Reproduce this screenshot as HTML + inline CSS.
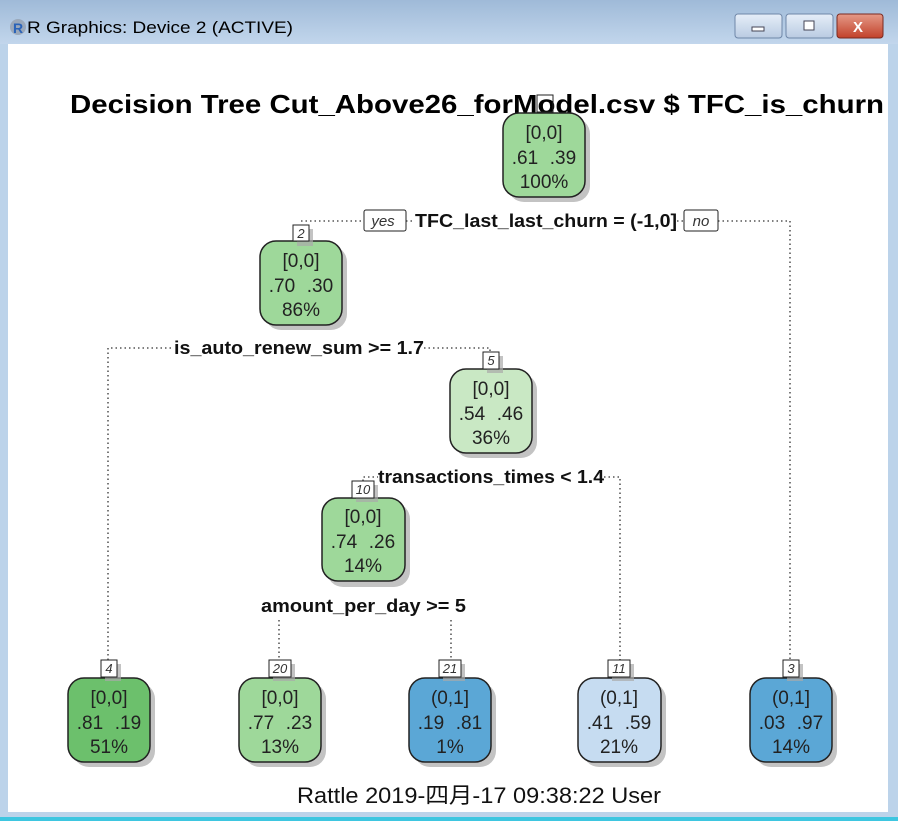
<!DOCTYPE html>
<html><head><meta charset="utf-8"><style>
html,body{margin:0;padding:0;width:898px;height:821px;overflow:hidden;background:#bcd3ea;}
svg{display:block}
text{font-family:"Liberation Sans","Noto Sans CJK SC",sans-serif;}
</style></head><body>
<svg width="898" height="821" xmlns="http://www.w3.org/2000/svg">
<defs>
<linearGradient id="tb" x1="0" y1="0" x2="0" y2="1"><stop offset="0" stop-color="#9fbad8"/><stop offset="1" stop-color="#c2d6ec"/></linearGradient>
<linearGradient id="btn" x1="0" y1="0" x2="0" y2="1"><stop offset="0" stop-color="#e6eef8"/><stop offset="1" stop-color="#b9cbe2"/></linearGradient>
<linearGradient id="cls" x1="0" y1="0" x2="0" y2="1"><stop offset="0" stop-color="#e59a88"/><stop offset="1" stop-color="#c2412a"/></linearGradient>
</defs>
<rect x="0" y="0" width="898" height="821" fill="#bcd3ea"/>
<rect x="0" y="0" width="898" height="44" fill="url(#tb)"/>
<rect x="0" y="817" width="898" height="4" fill="#3ec6e0"/>
<circle cx="18" cy="27" r="8" fill="#9aa8ba"/><text x="13" y="33" font-size="14" font-weight="bold" fill="#2a63b8">R</text>
<text x="27" y="33" font-size="17" fill="#000" textLength="266" lengthAdjust="spacingAndGlyphs">R Graphics: Device 2 (ACTIVE)</text>
<rect x="735" y="14" width="47" height="24" rx="3" fill="url(#btn)" stroke="#6f87a8"/>
<rect x="752" y="27" width="12" height="4" fill="#fff" stroke="#445"/>
<rect x="786" y="14" width="47" height="24" rx="3" fill="url(#btn)" stroke="#6f87a8"/>
<rect x="804" y="21" width="10" height="9" fill="#fff" stroke="#445"/>
<rect x="837" y="14" width="46" height="24" rx="3" fill="url(#cls)" stroke="#7a2a20"/>
<text x="853" y="32" font-size="15" font-weight="bold" fill="#fff">X</text>
<rect x="8" y="44" width="880" height="768" fill="#fff"/>

<g stroke="#333" stroke-width="1.3" stroke-dasharray="1.5,3" fill="none">
<path d="M301 221 H364"/><path d="M718 221 H790 V660"/><path d="M406 221 H412"/><path d="M677 221 H684"/>
<path d="M108 660 V348 H173"/><path d="M424 348 H490 V352"/>
<path d="M363 481 V477 H378"/><path d="M604 477 H620 V660"/>
<path d="M279 620 V660"/><path d="M451 620 V660"/>
</g>

<text x="70" y="113" font-size="26" font-weight="bold" fill="#000" textLength="814" lengthAdjust="spacingAndGlyphs">Decision Tree Cut_Above26_forModel.csv $ TFC_is_churn</text>

<g font-size="19" fill="#222" text-anchor="middle">
<rect x="508" y="118" width="82" height="84" rx="16" fill="#aaa" opacity=".7"/>
<rect x="503" y="113" width="82" height="84" rx="16" fill="#9ed89a" stroke="#222" stroke-width="1.5"/>
<rect x="537" y="95" width="16" height="17" fill="none" stroke="#222"/>
<text x="544" y="139">[0,0]</text><text x="525" y="164">.61</text><text x="563" y="164">.39</text><text x="544" y="188">100%</text>
<rect x="265" y="246" width="82" height="84" rx="16" fill="#aaa" opacity=".7"/>
<rect x="260" y="241" width="82" height="84" rx="16" fill="#9ed89a" stroke="#222" stroke-width="1.5"/>
<text x="301" y="267">[0,0]</text><text x="282" y="292">.70</text><text x="320" y="292">.30</text><text x="301" y="316">86%</text>
<rect x="455" y="374" width="82" height="84" rx="16" fill="#aaa" opacity=".7"/>
<rect x="450" y="369" width="82" height="84" rx="16" fill="#c9e8c4" stroke="#222" stroke-width="1.5"/>
<text x="491" y="395">[0,0]</text><text x="472" y="420">.54</text><text x="510" y="420">.46</text><text x="491" y="444">36%</text>
<rect x="327" y="503" width="83" height="84" rx="16" fill="#aaa" opacity=".7"/>
<rect x="322" y="498" width="83" height="83" rx="16" fill="#9ed89a" stroke="#222" stroke-width="1.5"/>
<text x="363" y="523">[0,0]</text><text x="344" y="548">.74</text><text x="382" y="548">.26</text><text x="363" y="572">14%</text>
<rect x="73" y="683" width="82" height="84" rx="16" fill="#aaa" opacity=".7"/>
<rect x="68" y="678" width="82" height="84" rx="16" fill="#6cc06c" stroke="#222" stroke-width="1.5"/>
<text x="109" y="704">[0,0]</text><text x="90" y="729">.81</text><text x="128" y="729">.19</text><text x="109" y="753">51%</text>
<rect x="244" y="683" width="82" height="84" rx="16" fill="#aaa" opacity=".7"/>
<rect x="239" y="678" width="82" height="84" rx="16" fill="#9ed89a" stroke="#222" stroke-width="1.5"/>
<text x="280" y="704">[0,0]</text><text x="261" y="729">.77</text><text x="299" y="729">.23</text><text x="280" y="753">13%</text>
<rect x="414" y="683" width="82" height="84" rx="16" fill="#aaa" opacity=".7"/>
<rect x="409" y="678" width="82" height="84" rx="16" fill="#5ba7d6" stroke="#222" stroke-width="1.5"/>
<text x="450" y="704">(0,1]</text><text x="431" y="729">.19</text><text x="469" y="729">.81</text><text x="450" y="753">1%</text>
<rect x="583" y="683" width="83" height="84" rx="16" fill="#aaa" opacity=".7"/>
<rect x="578" y="678" width="83" height="84" rx="16" fill="#c6dcf1" stroke="#222" stroke-width="1.5"/>
<text x="619" y="704">(0,1]</text><text x="600" y="729">.41</text><text x="638" y="729">.59</text><text x="619" y="753">21%</text>
<rect x="755" y="683" width="82" height="84" rx="16" fill="#aaa" opacity=".7"/>
<rect x="750" y="678" width="82" height="84" rx="16" fill="#5ba7d6" stroke="#222" stroke-width="1.5"/>
<text x="791" y="704">(0,1]</text><text x="772" y="729">.03</text><text x="810" y="729">.97</text><text x="791" y="753">14%</text>
</g>

<g font-size="13" font-style="italic" text-anchor="middle" fill="#333">
<rect x="297" y="229" width="16" height="17" fill="#aaa" opacity=".7"/>
<rect x="293" y="225" width="16" height="16" fill="#fff" stroke="#222"/><text x="301" y="238">2</text>
<rect x="487" y="356" width="16" height="17" fill="#aaa" opacity=".7"/>
<rect x="483" y="352" width="16" height="17" fill="#fff" stroke="#222"/><text x="491" y="365">5</text>
<rect x="356" y="485" width="22" height="17" fill="#aaa" opacity=".7"/>
<rect x="352" y="481" width="22" height="17" fill="#fff" stroke="#222"/><text x="363" y="494">10</text>
<rect x="105" y="664" width="16" height="17" fill="#aaa" opacity=".7"/>
<rect x="101" y="660" width="16" height="17" fill="#fff" stroke="#222"/><text x="109" y="673">4</text>
<rect x="273" y="664" width="22" height="17" fill="#aaa" opacity=".7"/>
<rect x="269" y="660" width="22" height="17" fill="#fff" stroke="#222"/><text x="280" y="673">20</text>
<rect x="443" y="664" width="22" height="17" fill="#aaa" opacity=".7"/>
<rect x="439" y="660" width="22" height="17" fill="#fff" stroke="#222"/><text x="450" y="673">21</text>
<rect x="612" y="664" width="22" height="17" fill="#aaa" opacity=".7"/>
<rect x="608" y="660" width="22" height="17" fill="#fff" stroke="#222"/><text x="619" y="673">11</text>
<rect x="787" y="664" width="16" height="17" fill="#aaa" opacity=".7"/>
<rect x="783" y="660" width="16" height="17" fill="#fff" stroke="#222"/><text x="791" y="673">3</text>
<rect x="364" y="210" width="42" height="21" rx="2" fill="#fff" stroke="#222"/><text x="383" y="226" font-size="15">yes</text>
<rect x="684" y="210" width="34" height="21" rx="2" fill="#fff" stroke="#222"/><text x="701" y="226" font-size="15">no</text>
</g>

<g font-size="18" font-weight="bold" fill="#111">
<text x="415" y="227" textLength="262" lengthAdjust="spacingAndGlyphs">TFC_last_last_churn = (-1,0]</text>
<text x="174" y="354" textLength="250" lengthAdjust="spacingAndGlyphs">is_auto_renew_sum &gt;= 1.7</text>
<text x="378" y="483" textLength="226" lengthAdjust="spacingAndGlyphs">transactions_times &lt; 1.4</text>
<text x="261" y="612" textLength="205" lengthAdjust="spacingAndGlyphs">amount_per_day &gt;= 5</text>
</g>

<text x="297" y="803" font-size="22" fill="#111" textLength="364" lengthAdjust="spacingAndGlyphs">Rattle 2019-四月-17 09:38:22 User</text>
</svg>
</body></html>
